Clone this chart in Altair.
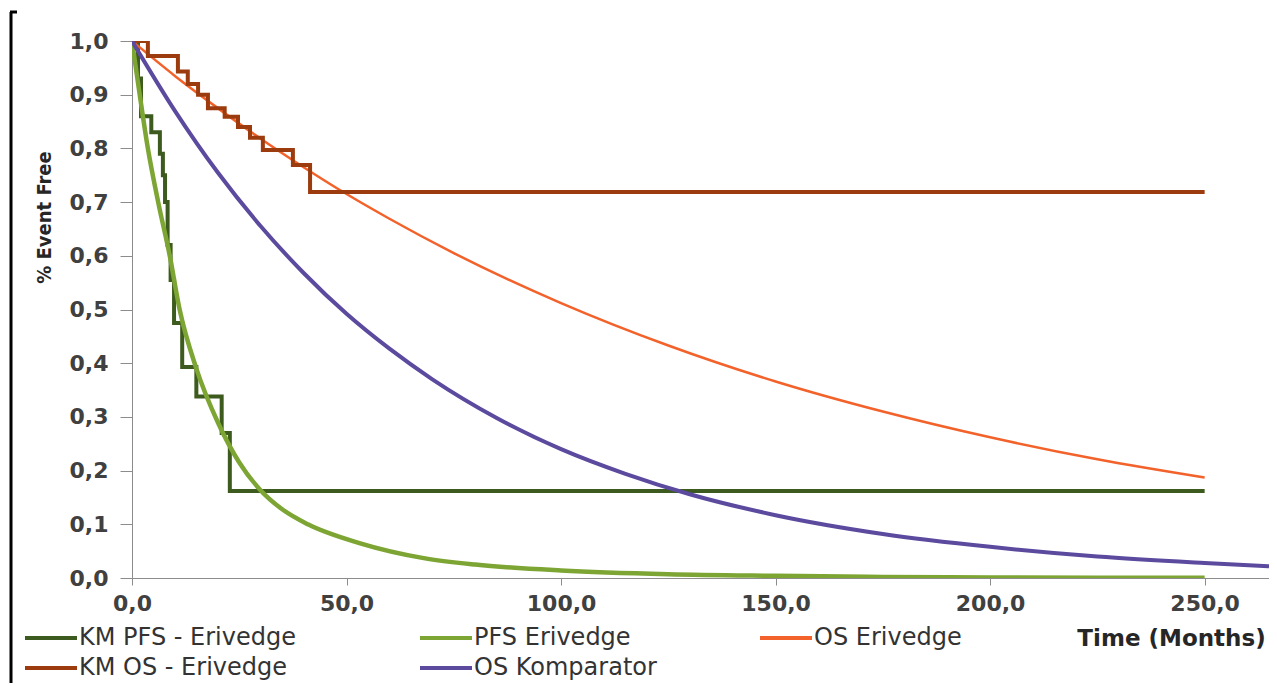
import altair as alt
import pandas as pd

# ---------------- data ----------------
# Kaplan-Meier PFS - Erivedge (step function)
km_pfs_t = [0, 1.4, 2.1, 4.5, 6.5, 7.2, 7.7, 8.3, 9.0, 9.8, 11.7, 15.0, 20.9, 22.8, 250]
km_pfs_v = [1.0, 0.93, 0.86, 0.83, 0.79, 0.75, 0.70, 0.62, 0.555, 0.475, 0.393, 0.338, 0.27, 0.162, 0.162]

# Kaplan-Meier OS - Erivedge (step function)
km_os_t = [0, 3.7, 10.7, 13.0, 15.4, 17.7, 21.6, 24.7, 27.5, 30.5, 37.5, 41.5, 250]
km_os_v = [1.0, 0.972, 0.943, 0.92, 0.90, 0.875, 0.859, 0.84, 0.82, 0.797, 0.769, 0.719, 0.719]

# PFS Erivedge (fitted curve)
pfs_t = [0, 1.8, 3.7, 6.1, 8.8, 11.1, 15, 20, 25, 30, 35, 41, 53, 68, 80, 100,
         125, 150, 175, 200, 225, 250]
pfs_v = [1.0, 0.9, 0.8, 0.7, 0.6, 0.5, 0.39, 0.29, 0.215, 0.163, 0.128, 0.1, 0.065, 0.037, 0.025, 0.014,
         0.007, 0.004, 0.002, 0.001, 0.0005, 0.0003]

# OS Erivedge (fitted curve)
os_t = [0, 10, 20, 30, 40, 50, 60, 75, 100, 125, 150, 175, 200, 225, 250]
os_v = [1.0, 0.935, 0.875, 0.818, 0.765, 0.715, 0.669, 0.605, 0.512, 0.433, 0.366, 0.31, 0.262, 0.221, 0.187]

# OS Komparator (fitted curve)
komp_t = [0, 10, 20, 30, 40, 50, 60, 70, 85, 100, 115, 130, 150, 175, 200, 225, 250, 265]
komp_v = [1.0, 0.87, 0.755, 0.655, 0.568, 0.492, 0.427, 0.37, 0.298, 0.24, 0.194, 0.156, 0.117, 0.082,
          0.058, 0.04, 0.028, 0.022]

x_ticks = [0, 50, 100, 150, 200, 250]
y_ticks = [0.0, 0.1, 0.2, 0.3, 0.4, 0.5, 0.6, 0.7, 0.8, 0.9, 1.0]

series_names = ["KM PFS - Erivedge", "PFS Erivedge", "OS Erivedge", "KM OS - Erivedge", "OS Komparator"]
series_colors = ["#3d5b1e", "#7da534", "#f2622a", "#9b3b0e", "#5b4a9e"]
x_title = "Time (Months)"
y_title = "% Event Free"

# ---------------- layout ----------------
W, H = 1137, 537
LABEL_FONT = "DejaVu Sans"
fmt = "replace(format(datum.value, '.1f'), '.', ',')"

x_axis = alt.Axis(values=x_ticks, labelExpr=fmt, grid=False,
                  title=x_title, titleX=1039, titleY=60, titleAlign="center", titleBaseline="middle",
                  titleFont=LABEL_FONT, titleFontSize=23, titleFontWeight="bold", titleColor="#262626",
                  domainColor="#8c8c8c", tickColor="#8c8c8c", tickSize=7,
                  labelFont=LABEL_FONT, labelFontSize=22, labelFontWeight="bold", labelColor="#404040",
                  labelPadding=8, labelFlush=False, labelOverlap=False)
y_axis = alt.Axis(values=y_ticks, labelExpr=fmt, grid=False,
                  title=y_title, titleAngle=270, titleX=-88, titleY=176, titleAlign="center",
                  titleBaseline="middle", titleFont="DejaVu Sans Condensed, Liberation Sans",
                  titleFontSize=20, titleFontWeight="bold", titleColor="#262626",
                  domainColor="#8c8c8c", tickColor="#8c8c8c", tickSize=12,
                  labelFont=LABEL_FONT, labelFontSize=22, labelFontWeight="bold", labelColor="#404040",
                  labelPadding=12, labelFlush=False, labelOverlap=False)

X = alt.X("t:Q", scale=alt.Scale(domain=[0, 265], nice=False, zero=False), axis=x_axis)
Y = alt.Y("v:Q", scale=alt.Scale(domain=[0, 1], nice=False, zero=False), axis=y_axis)


def line(t, v, color, width, interp):
    df = pd.DataFrame({"t": t, "v": v})
    return alt.Chart(df).mark_line(color=color, strokeWidth=width, interpolate=interp,
                                   clip=True).encode(x=X, y=Y)


layers = [
    line(km_pfs_t, km_pfs_v, series_colors[0], 4, "step-after"),
    line(pfs_t, pfs_v, series_colors[1], 4.5, "monotone"),
    line(os_t, os_v, series_colors[2], 2.5, "monotone"),
    line(km_os_t, km_os_v, series_colors[3], 4, "step-after"),
    line(komp_t, komp_v, series_colors[4], 4, "monotone"),
]

one = pd.DataFrame({"a": [0]})

# legend (custom, two rows at bottom)
leg_cols = [-107, 288, 628]
leg_rows = [597, 627]
slots = [(0, 0), (0, 1), (0, 2), (1, 0), (1, 1)]
for i, name in enumerate(series_names):
    r, c = slots[i]
    x0 = leg_cols[c]
    y0 = leg_rows[r]
    layers.append(alt.Chart(one).mark_rule(color=series_colors[i], strokeWidth=4).encode(
        x=alt.value(x0), x2=alt.value(x0 + 52), y=alt.value(y0), y2=alt.value(y0)))
    layers.append(alt.Chart(one).mark_text(align="left", baseline="middle", font=LABEL_FONT,
                                           fontSize=24, color="#333333").encode(
        x=alt.value(x0 + 54), y=alt.value(y0), text=alt.value(name)))

# chart frame remnant at left edge
layers.append(alt.Chart(one).mark_rule(color="#000000", strokeWidth=3).encode(
    x=alt.value(-121), y=alt.value(-29), y2=alt.value(645)))
layers.append(alt.Chart(one).mark_rule(color="#000000", strokeWidth=3).encode(
    x=alt.value(-122), x2=alt.value(-115), y=alt.value(-29)))

chart = alt.layer(*layers).properties(
    width=W, height=H,
    autosize=alt.AutoSizeParams(type="none"),
    padding={"left": 124, "top": 33, "right": 0, "bottom": 105},
    background="white",
).configure_view(stroke=None)

chart.save("out.html", embed_options={"renderer": "svg", "actions": False})
